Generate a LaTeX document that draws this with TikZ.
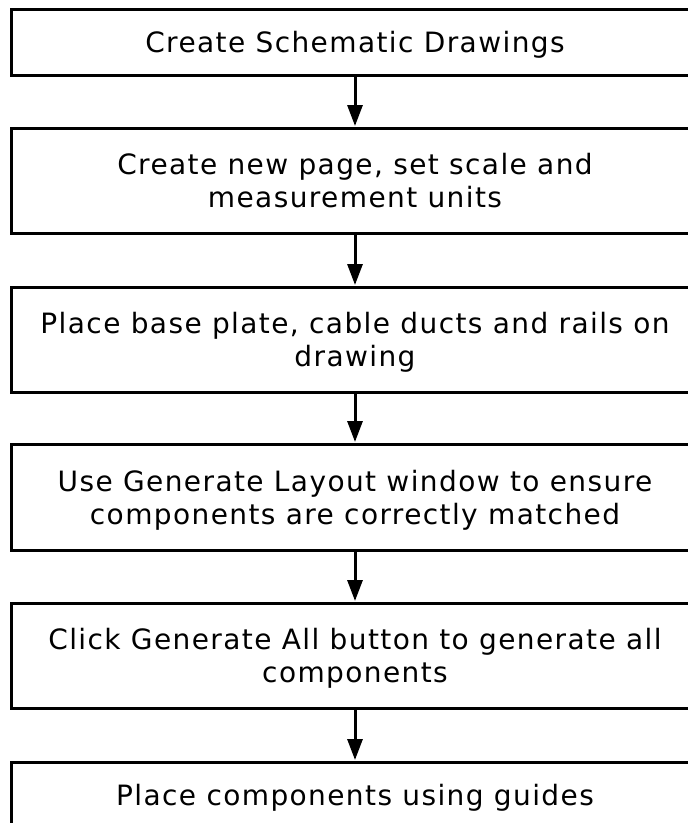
\documentclass[tikz,border=0pt]{standalone}
\usepackage{fontspec}
\setmainfont{DejaVu Sans}[LetterSpace=5]
\usetikzlibrary{arrows.meta}
\begin{document}
\begin{tikzpicture}[x=1pt,y=1pt,
  stepbox/.style={draw=black, line width=3pt, minimum width=688pt, align=center,
    font=\fontsize{28}{33}\selectfont, inner sep=0pt, text depth=0pt},
  flow/.style={line width=3pt, -{Triangle[width=15pt,length=21pt]}, shorten >=0.5pt}]
\useasboundingbox (0,0) rectangle (688,-823);
\node[stepbox, minimum height=66pt] (b1) at (355,-42) {Create Schematic Drawings};
\node[stepbox, minimum height=105pt] (b2) at (355,-180.5) {Create new page, set scale and\\measurement units};
\node[stepbox, minimum height=105pt] (b3) at (355,-339.5) {Place base plate, cable ducts and rails on\\drawing};
\node[stepbox, minimum height=106pt] (b4) at (355,-497) {Use Generate Layout window to ensure\\components are correctly matched};
\node[stepbox, minimum height=105pt] (b5) at (355,-655.5) {Click Generate All button to generate all\\components};
\node[stepbox, minimum height=66pt] (b6) at (355,-795) {Place components using guides};
\draw[flow] (b1.south) -- (b2.north);
\draw[flow] (b2.south) -- (b3.north);
\draw[flow] (b3.south) -- (b4.north);
\draw[flow] (b4.south) -- (b5.north);
\draw[flow] (b5.south) -- (b6.north);
\end{tikzpicture}
\end{document}
